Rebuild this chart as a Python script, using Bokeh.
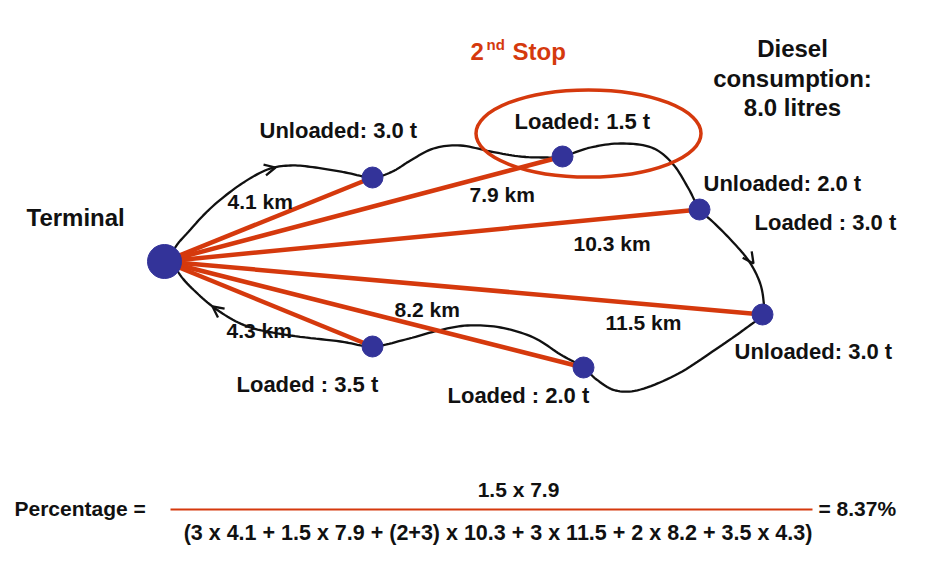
import numpy as np
from bokeh.plotting import figure
from bokeh.models import Range1d, Arrow, OpenHead
from bokeh.core.properties import value
from bokeh.embed import file_html
from bokeh.resources import INLINE

# ---------------- data ----------------
load_labels = ["Unloaded: 3.0 t", "Loaded: 1.5 t", "Unloaded: 2.0 t", "Loaded : 3.0 t",
               "Unloaded: 3.0 t", "Loaded : 2.0 t", "Loaded : 3.5 t"]
distances_km = [4.1, 7.9, 10.3, 11.5, 8.2, 4.3]
distance_labels = [f"{d} km" for d in distances_km]
diesel_lines = ["Diesel", "consumption:", "8.0 litres"]
numerator = "1.5 x 7.9"
denominator = "(3 x 4.1 + 1.5 x 7.9 + (2+3) x 10.3 + 3 x 11.5 + 2 x 8.2 + 3.5 x 4.3)"
result = "= 8.37%"

# ---------------- layout (reference pixel coordinates) ----------------
terminal_xy = (164, 261)
node_x = [372, 562, 699, 762, 583, 372]
node_y = [177, 156, 209, 314, 367, 346]
load_lx = [259, 514, 703, 754, 734, 447, 236]
load_ly = [130, 121, 183, 222, 351, 395, 384]
dist_lx = [227, 469, 573, 605, 394, 226]
dist_ly = [201, 194, 243, 322, 309, 330]

route_x = [173, 190, 212, 240, 267, 290, 315, 345, 372, 392, 410, 433, 460, 490, 520, 545, 562,
           590, 620, 651, 672, 688, 699, 712, 730, 748, 759, 763, 762, 745, 715, 678, 640, 615,
           596, 583, 560, 533, 500, 467, 438, 405, 372, 340, 290, 250, 222, 198, 178]
route_y = [251, 229, 206, 184, 169, 165, 167, 172, 177, 171, 160, 148, 145, 151, 156, 157, 156,
           147, 143, 147, 163, 188, 209, 221, 239, 260, 281, 300, 314, 328, 349, 373, 389, 390,
           379, 367, 354, 337, 327, 325, 330, 339, 346, 341, 335, 327, 313, 294, 272]

RED = "#d5390d"
BLUE = "#333399"
BLACK = "#111111"
FONT = value("Liberation Sans")


def catmull_rom_closed(xs, ys, n=10):
    P = np.column_stack([xs, ys]).astype(float)
    m = len(P)
    out = []
    for i in range(m):
        p0, p1, p2, p3 = P[(i - 1) % m], P[i], P[(i + 1) % m], P[(i + 2) % m]
        for t in np.linspace(0, 1, n, endpoint=False):
            t2, t3 = t * t, t * t * t
            pt = 0.5 * ((2 * p1) + (-p0 + p2) * t + (2 * p0 - 5 * p1 + 4 * p2 - p3) * t2
                        + (-p0 + 3 * p1 - 3 * p2 + p3) * t3)
            out.append(pt)
    out.append(out[0])
    out = np.array(out)
    return out[:, 0], out[:, 1]


p = figure(width=915, height=546, output_backend="svg", toolbar_location=None,
           x_range=Range1d(0, 915), y_range=Range1d(546, 0), min_border=0)
p.axis.visible = False
p.grid.visible = False
p.outline_line_color = None
p.background_fill_color = "white"
p.border_fill_color = "white"

# route curve
cx, cy = catmull_rom_closed(route_x, route_y)
p.line(cx, cy, line_color=BLACK, line_width=2.3)

# direction arrows
for (x0, y0, x1, y1) in [(262, 170, 275, 167), (746, 253, 753, 263), (224, 315, 212, 306)]:
    p.add_layout(Arrow(end=OpenHead(size=11, line_width=2.3, line_color=BLACK),
                       x_start=x0, y_start=y0, x_end=x1, y_end=y1,
                       line_alpha=0, line_width=0))

# red direct lines
for nx, ny in zip(node_x, node_y):
    p.line([terminal_xy[0], nx], [terminal_xy[1], ny], line_color=RED, line_width=4.5)

# 2nd stop ellipse
p.ellipse(x=[588], y=[133], width=[225], height=[87], width_units="screen",
          height_units="screen", fill_alpha=0, line_color=RED, line_width=3.5)

# nodes
p.scatter(x=[terminal_xy[0]], y=[terminal_xy[1]], size=34, color=BLUE)
p.scatter(x=node_x, y=node_y, size=21, color=BLUE)

# labels
p.text(x=load_lx, y=load_ly, text=load_labels, text_font=FONT, text_font_style="bold",
       text_font_size="22px", text_baseline="middle", text_align="left", text_color=BLACK)
p.text(x=dist_lx, y=dist_ly, text=distance_labels, text_font=FONT, text_font_style="bold",
       text_font_size="21px", text_baseline="middle", text_align="left", text_color=BLACK)
p.text(x=[26], y=[217], text=["Terminal"], text_font=FONT, text_font_style="bold",
       text_font_size="24px", text_baseline="middle", text_align="left", text_color=BLACK)
p.text(x=[792, 792, 792], y=[48, 78, 107], text=diesel_lines, text_font=FONT,
       text_font_style="bold", text_font_size="24px", text_baseline="middle",
       text_align="center", text_color=BLACK)

# 2nd Stop title
p.text(x=[470], y=[51], text=["2"], text_font=FONT, text_font_style="bold",
       text_font_size="24px", text_baseline="middle", text_align="left", text_color=RED)
p.text(x=[486], y=[44], text=["nd"], text_font=FONT, text_font_style="bold",
       text_font_size="15px", text_baseline="middle", text_align="left", text_color=RED)
p.text(x=[512], y=[51], text=["Stop"], text_font=FONT, text_font_style="bold",
       text_font_size="24px", text_baseline="middle", text_align="left", text_color=RED)

# formula
p.text(x=[14], y=[508], text=["Percentage ="], text_font=FONT, text_font_style="bold",
       text_font_size="21px", text_baseline="middle", text_align="left", text_color=BLACK)
p.text(x=[518], y=[489], text=[numerator], text_font=FONT, text_font_style="bold",
       text_font_size="21px", text_baseline="middle", text_align="center", text_color=BLACK)
p.line([170, 812], [509, 509], line_color=RED, line_width=2)
p.text(x=[497.5], y=[532], text=[denominator], text_font=FONT, text_font_style="bold",
       text_font_size="21.5px", text_baseline="middle", text_align="center", text_color=BLACK)
p.text(x=[818], y=[508], text=[result], text_font=FONT, text_font_style="bold",
       text_font_size="21px", text_baseline="middle", text_align="left", text_color=BLACK)

open("out.html", "w").write(file_html(p, INLINE))
